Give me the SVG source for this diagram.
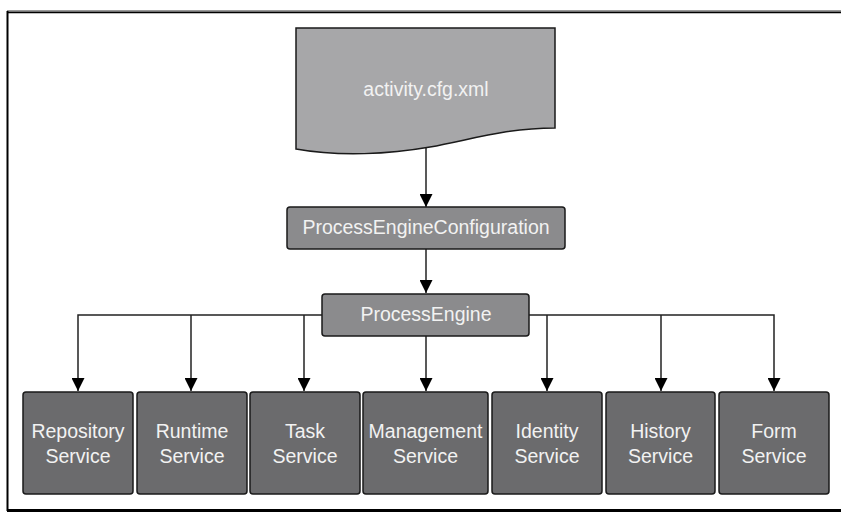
<svg xmlns="http://www.w3.org/2000/svg" width="841" height="513" viewBox="0 0 841 513">
<defs>
<marker id="arr" markerWidth="14" markerHeight="13" refX="13" refY="6.5" orient="auto" markerUnits="userSpaceOnUse">
<path d="M0,0 L13,6.5 L0,13 Z" fill="#000"/>
</marker>
<style>
.t{font-family:"Liberation Sans",Arial,sans-serif;font-size:19.5px;fill:#f2f2f2;text-anchor:middle}
.svc{fill:#6b6b6d;stroke:#1a1a1a;stroke-width:1.5}
.mid{fill:#8b8b8d;stroke:#1a1a1a;stroke-width:1.5}
.c{fill:none;stroke:#222;stroke-width:1.5}
</style>
</defs>
<rect width="841" height="513" fill="#fff"/>
<g id="frame">
<line x1="7" y1="11" x2="841" y2="11" stroke="#777" stroke-width="1.5"/>
<line x1="7" y1="12.5" x2="841" y2="12.5" stroke="#000" stroke-width="1.5"/>
<line x1="7.5" y1="11" x2="7.5" y2="511" stroke="#000" stroke-width="2"/>
<line x1="7" y1="510.5" x2="841" y2="510.5" stroke="#000" stroke-width="3"/>
</g>
<g id="connectors">
<line class="c" x1="426" y1="148" x2="426" y2="207" marker-end="url(#arr)"/>
<line class="c" x1="426" y1="249" x2="426" y2="293" marker-end="url(#arr)"/>
<line class="c" x1="426" y1="336" x2="426" y2="391" marker-end="url(#arr)"/>
<polyline class="c" points="322,315 78,315 78,391" marker-end="url(#arr)"/>
<line class="c" x1="191" y1="315" x2="191" y2="391" marker-end="url(#arr)"/>
<line class="c" x1="304" y1="315" x2="304" y2="391" marker-end="url(#arr)"/>
<polyline class="c" points="529,315 774,315 774,391" marker-end="url(#arr)"/>
<line class="c" x1="547" y1="315" x2="547" y2="391" marker-end="url(#arr)"/>
<line class="c" x1="661" y1="315" x2="661" y2="391" marker-end="url(#arr)"/>
</g>
<g id="doc">
<path d="M296,28 H555 V128 C505,128 470,140 430,147 C390,154 340,157 296,149 Z" fill="#a7a7a9" stroke="#1a1a1a" stroke-width="1.5"/>
<text class="t" x="426" y="96">activity.cfg.xml</text>
</g>
<g id="config">
<rect class="mid" x="287" y="207" width="278" height="42" rx="3"/>
<text class="t" x="426" y="234">ProcessEngineConfiguration</text>
</g>
<g id="engine">
<rect class="mid" x="322" y="294" width="207" height="42" rx="3"/>
<text class="t" x="426" y="321">ProcessEngine</text>
</g>
<g id="repository">
<rect class="svc" x="23" y="392" width="110" height="102" rx="3"/>
<text class="t" x="78" y="438">Repository</text><text class="t" x="78" y="463">Service</text>
</g>
<g id="runtime">
<rect class="svc" x="137" y="392" width="110" height="102" rx="3"/>
<text class="t" x="192" y="438">Runtime</text><text class="t" x="192" y="463">Service</text>
</g>
<g id="task">
<rect class="svc" x="250" y="392" width="110" height="102" rx="3"/>
<text class="t" x="305" y="438">Task</text><text class="t" x="305" y="463">Service</text>
</g>
<g id="management">
<rect class="svc" x="363" y="392" width="125" height="102" rx="3"/>
<text class="t" x="425.5" y="438">Management</text><text class="t" x="425.5" y="463">Service</text>
</g>
<g id="identity">
<rect class="svc" x="492" y="392" width="110" height="102" rx="3"/>
<text class="t" x="547" y="438">Identity</text><text class="t" x="547" y="463">Service</text>
</g>
<g id="history">
<rect class="svc" x="606" y="392" width="109" height="102" rx="3"/>
<text class="t" x="660.5" y="438">History</text><text class="t" x="660.5" y="463">Service</text>
</g>
<g id="form">
<rect class="svc" x="719" y="392" width="110" height="102" rx="3"/>
<text class="t" x="774" y="438">Form</text><text class="t" x="774" y="463">Service</text>
</g>
</svg>
